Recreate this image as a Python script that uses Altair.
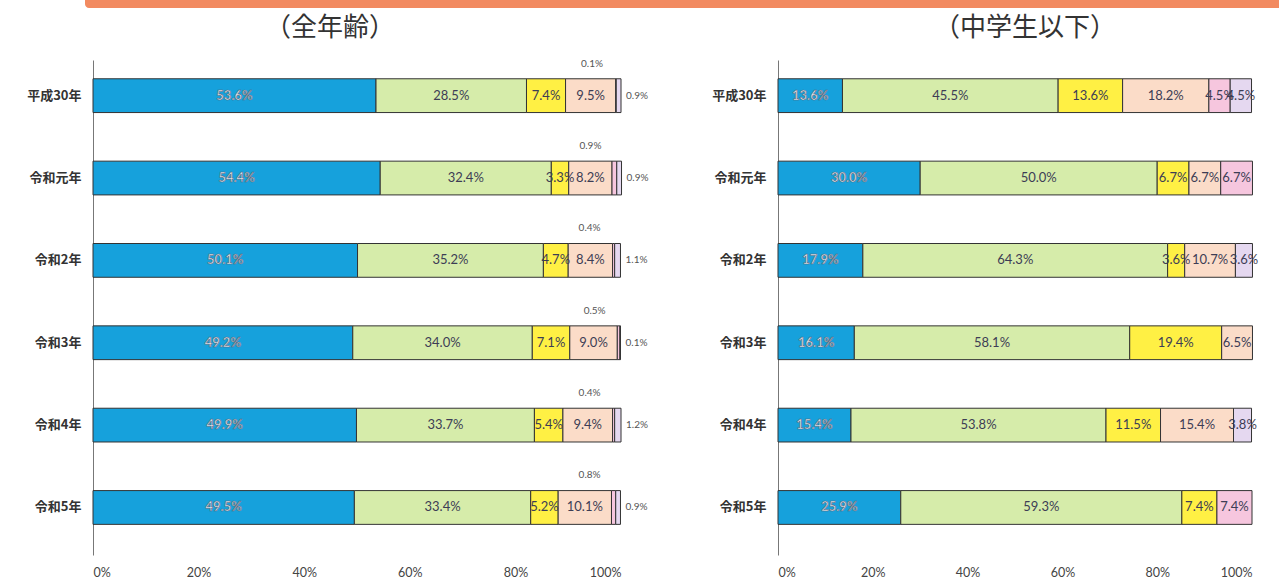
import altair as alt
import pandas as pd

years = ["平成30年", "令和元年", "令和2年", "令和3年", "令和4年", "令和5年"]
cats = ["区分1", "区分2", "区分3", "区分4", "区分5", "区分6"]
colors = ["#16a1dc", "#d6ecaa", "#fff044", "#fbdcc8", "#f6c6de", "#e5d8f0"]

# 全年齢 (values per category, per year)
all_c1 = [53.6, 54.4, 50.1, 49.2, 49.9, 49.5]
all_c2 = [28.5, 32.4, 35.2, 34.0, 33.7, 33.4]
all_c3 = [7.4, 3.3, 4.7, 7.1, 5.4, 5.2]
all_c4 = [9.5, 8.2, 8.4, 9.0, 9.4, 10.1]
all_c5 = [0.1, 0.9, 0.4, 0.5, 0.4, 0.8]
all_c6 = [0.9, 0.9, 1.1, 0.1, 1.2, 0.9]

# 中学生以下
jr_c1 = [13.6, 30.0, 17.9, 16.1, 15.4, 25.9]
jr_c2 = [45.5, 50.0, 64.3, 58.1, 53.8, 59.3]
jr_c3 = [13.6, 6.7, 3.6, 19.4, 11.5, 7.4]
jr_c4 = [18.2, 6.7, 10.7, 6.5, 15.4, 0.0]
jr_c5 = [4.5, 6.7, 0.0, 0.0, 0.0, 7.4]
jr_c6 = [4.5, 0.0, 3.6, 0.0, 3.8, 0.0]

x_ticks = [0, 20, 40, 60, 80, 100]
titles = ["（全年齢）", "（中学生以下）"]


def build_frame(series):
    rows = []
    for yi, y in enumerate(years):
        acc = 0.0
        for ci, c in enumerate(cats):
            v = series[ci][yi]
            if v <= 0:
                continue
            rows.append({
                "year": y, "cat": c, "ci": ci, "value": v,
                "start": acc, "end": acc + v, "mid": acc + v / 2,
                "label": f"{v:.1f}%",
            })
            acc += v
    return pd.DataFrame(rows)


df_all = build_frame([all_c1, all_c2, all_c3, all_c4, all_c5, all_c6])
df_jr = build_frame([jr_c1, jr_c2, jr_c3, jr_c4, jr_c5, jr_c6])

NUM_FONT = "Lato"
JP_FONT = "Noto Sans CJK JP"


def panel(df, width, title, title_x, small_outside):
    base = alt.Chart(df)
    y_enc = alt.Y("year:N", sort=years, title=None,
                  scale=alt.Scale(paddingInner=0.59, paddingOuter=0.3, align=0.38),
                  axis=alt.Axis(domain=True, domainColor="#777", ticks=False,
                                labelFont=JP_FONT, labelFontWeight="bold",
                                labelFontSize=13, labelColor="#333",
                                labelPadding=12, minExtent=88, maxExtent=88))
    x_scale = alt.Scale(domain=[0, 100], nice=False)
    bars = base.mark_bar(stroke="#333", strokeWidth=1).encode(
        x=alt.X("start:Q", scale=x_scale, title=None,
                axis=alt.Axis(values=x_ticks, labelExpr="datum.value + '%'",
                              domain=False, ticks=False, grid=False,
                              labelFont=NUM_FONT, labelFontSize=12.5,
                              labelColor="#444", labelPadding=11)),
        x2="end:Q",
        y=y_enc,
        color=alt.Color("cat:N", scale=alt.Scale(domain=cats, range=colors), legend=None),
    )
    inside_filter = "datum.ci >= 1" if not small_outside else "datum.ci >= 1 && datum.ci <= 3"
    txt_in = base.transform_filter(inside_filter).mark_text(
        font=NUM_FONT, fontSize=13, color="#3d3d55").encode(
        x="mid:Q", y=alt.Y("year:N", sort=years), text="label:N")
    txt_blue = base.transform_filter("datum.ci == 0").mark_text(
        font=NUM_FONT, fontSize=13, fontWeight="bold", color="#e4ebf2", stroke="#55657a",
        strokeWidth=0.6).encode(
        x="mid:Q", y=alt.Y("year:N", sort=years), text="label:N")
    ttl = alt.Chart(pd.DataFrame({"t": [title]})).mark_text(
        font=JP_FONT, fontSize=26, color="#333", baseline="middle").encode(
        x=alt.value(title_x), y=alt.value(-32), text="t:N")
    layers = [bars, txt_blue, txt_in, ttl]
    if small_outside:
        txt_pink = base.transform_filter("datum.ci == 4").mark_text(
            font=NUM_FONT, fontSize=10, color="#555", dx=-24, dy=-32).encode(
            x="mid:Q", y=alt.Y("year:N", sort=years), text="label:N")
        txt_lav = base.transform_filter("datum.ci == 5").mark_text(
            font=NUM_FONT, fontSize=10, color="#555", align="left", dx=5).encode(
            x="end:Q", y=alt.Y("year:N", sort=years), text="label:N")
        layers += [txt_pink, txt_lav]
    return alt.layer(*layers).properties(width=width, height=495)


band = alt.Chart(pd.DataFrame({"k": [0]})).mark_rect(
    color="#f28a60", cornerRadiusBottomLeft=8).encode(
    x=alt.value(-8), x2=alt.value(1186), y=alt.value(-60), y2=alt.value(-52))

left = alt.layer(panel(df_all, 528, titles[0], 237, True), band)
right = panel(df_jr, 474, titles[1], 247, False)

chart = alt.hconcat(left, right, spacing=157, bounds="flush").properties(
    padding={"left": 5, "top": 0, "right": 0, "bottom": 5}
).configure_view(stroke=None)

chart.save("out.html", embed_options={"renderer": "svg", "actions": False})
